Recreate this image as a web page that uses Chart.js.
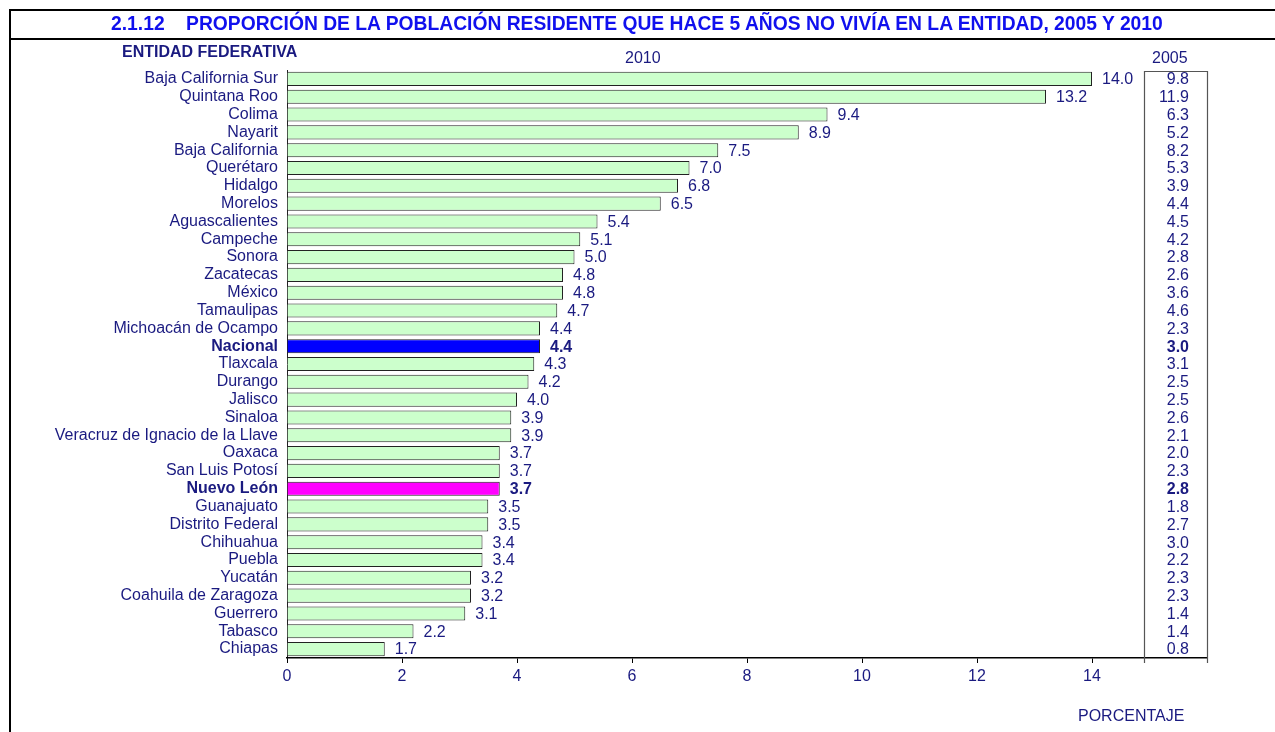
<!DOCTYPE html>
<html>
<head>
<meta charset="utf-8">
<script src="https://cdn.jsdelivr.net/npm/chart.js@4.4.1/dist/chart.umd.min.js"></script>
<style>
  html, body { margin: 0; padding: 0; background: #fff; }
  #wrap { position: relative; width: 1275px; height: 732px; overflow: hidden; font-family: "Liberation Sans", Arial, sans-serif; }
  #chart { position: absolute; left: 0; top: 0; }
  .txt { position: absolute; white-space: nowrap; color: #1a1a80; font-size: 16px; line-height: 18px; }
  #titleBar { position: absolute; left: 9px; top: 9px; width: 1275px; height: 27px; border-top: 2px solid #000; border-bottom: 2px solid #000; border-left: 2px solid #000; }
  #leftLine { position: absolute; left: 9px; top: 38px; height: 700px; border-left: 2px solid #000; }
  #title { position: absolute; top: 13px; left: 111px; color: #1010ee; font-weight: bold; font-size: 19.3px; line-height: 22px; white-space: pre; }
</style>
</head>
<body>
<div id="wrap">
  <canvas id="chart" width="1275" height="732"></canvas>
  <div id="titleBar"></div>
  <div id="leftLine"></div>
  <div id="title">2.1.12    PROPORCIÓN DE LA POBLACIÓN RESIDENTE QUE HACE 5 AÑOS NO VIVÍA EN LA ENTIDAD, 2005 Y 2010</div>
  <div class="txt" style="left:122px; top:43px; font-weight:bold;">ENTIDAD FEDERATIVA</div>
  <div class="txt" style="left:625px; top:49px;">2010</div>
  <div class="txt" style="left:1152px; top:49px;">2005</div>
  <div class="txt" style="left:1078px; top:707px;">PORCENTAJE</div>
</div>
<script>
// Entidades ordenadas por proporción 2010
const entidades = [
  'Baja California Sur', 'Quintana Roo', 'Colima', 'Nayarit', 'Baja California',
  'Querétaro', 'Hidalgo', 'Morelos', 'Aguascalientes', 'Campeche', 'Sonora',
  'Zacatecas', 'México', 'Tamaulipas', 'Michoacán de Ocampo', 'Nacional',
  'Tlaxcala', 'Durango', 'Jalisco', 'Sinaloa', 'Veracruz de Ignacio de la Llave',
  'Oaxaca', 'San Luis Potosí', 'Nuevo León', 'Guanajuato', 'Distrito Federal',
  'Chihuahua', 'Puebla', 'Yucatán', 'Coahuila de Zaragoza', 'Guerrero',
  'Tabasco', 'Chiapas'
];
const valores2010 = [
  14.0, 13.2, 9.4, 8.9, 7.5, 7.0, 6.8, 6.5, 5.4, 5.1, 5.0,
  4.8, 4.8, 4.7, 4.4, 4.4, 4.3, 4.2, 4.0, 3.9, 3.9,
  3.7, 3.7, 3.7, 3.5, 3.5, 3.4, 3.4, 3.2, 3.2, 3.1, 2.2, 1.7
];
const valores2005 = [
  9.8, 11.9, 6.3, 5.2, 8.2, 5.3, 3.9, 4.4, 4.5, 4.2, 2.8,
  2.6, 3.6, 4.6, 2.3, 3.0, 3.1, 2.5, 2.5, 2.6, 2.1,
  2.0, 2.3, 2.8, 1.8, 2.7, 3.0, 2.2, 2.3, 2.3, 1.4, 1.4, 0.8
];
const xTicks = [0, 2, 4, 6, 8, 10, 12, 14];

const FONT = '"Liberation Sans", Arial, sans-serif';
const NAVY = '#1a1a80';
const destacados = { 'Nacional': '#0000ff', 'Nuevo León': '#ff00ff' };

function esDestacado(i) {
  return destacados.hasOwnProperty(entidades[i]);
}

// labels at bar ends and the 2005 column
const etiquetasPlugin = {
  id: 'etiquetas',
  afterDatasetsDraw(chart) {
    const ctx = chart.ctx;
    const meta = chart.getDatasetMeta(0);
    const xs = chart.scales.x;
    const area = chart.chartArea;
    ctx.save();
    ctx.fillStyle = NAVY;
    ctx.textBaseline = 'middle';
    meta.data.forEach(function(bar, i) {
      ctx.font = (esDestacado(i) ? 'bold ' : '') + '16px ' + FONT;
      ctx.textAlign = 'left';
      ctx.fillText(valores2010[i].toFixed(1), bar.x + 10, bar.y + 1);
      ctx.textAlign = 'right';
      ctx.fillText(valores2005[i].toFixed(1), 1189, bar.y + 1);
    });

    // 2005 box
    const left = Math.round(xs.getPixelForValue(14.9)) + 0.5;
    const right = Math.round(area.right) + 0.5;
    const top = Math.round(area.top) + 1.5;
    const bottom = area.bottom + 5;
    ctx.strokeStyle = '#555';
    ctx.lineWidth = 1.2;
    ctx.beginPath();
    ctx.moveTo(left, bottom);
    ctx.lineTo(left, top);
    ctx.lineTo(right, top);
    ctx.lineTo(right, bottom);
    ctx.stroke();
    ctx.restore();
  }
};

new Chart(document.getElementById('chart'), {
  type: 'bar',
  data: {
    labels: entidades,
    datasets: [{
      label: '2010',
      data: valores2010,
      backgroundColor: entidades.map(e => destacados[e] || '#ccffcc'),
      borderColor: '#222222',
      borderWidth: 1,
      barPercentage: 0.79,
      categoryPercentage: 1.0
    }]
  },
  options: {
    indexAxis: 'y',
    responsive: false,
    animation: false,
    layout: { padding: { left: 0, right: 68, top: 70, bottom: 44 } },
    plugins: {
      legend: { display: false },
      tooltip: { enabled: false }
    },
    scales: {
      y: {
        grid: { display: false, drawTicks: false },
        border: { display: true, color: '#222', width: 1 },
        ticks: {
          padding: 9,
          autoSkip: false,
          color: NAVY,
          font: (c) => ({ family: FONT, size: 16, weight: esDestacado(c.index) ? 'bold' : 'normal' })
        },
        afterFit(scale) { scale.width = 287; }
      },
      x: {
        min: 0,
        max: 16,
        grid: { drawOnChartArea: false, drawTicks: true, tickLength: 5, color: '#000' },
        border: { display: true, color: '#000', width: 1.5 },
        ticks: {
          stepSize: 2,
          padding: 4,
          color: NAVY,
          font: { family: FONT, size: 16 },
          callback: (v) => xTicks.includes(v) ? String(v) : ''
        },
        afterFit(scale) { scale.height = 30; }
      }
    }
  },
  plugins: [etiquetasPlugin]
});
</script>
</body>
</html>
